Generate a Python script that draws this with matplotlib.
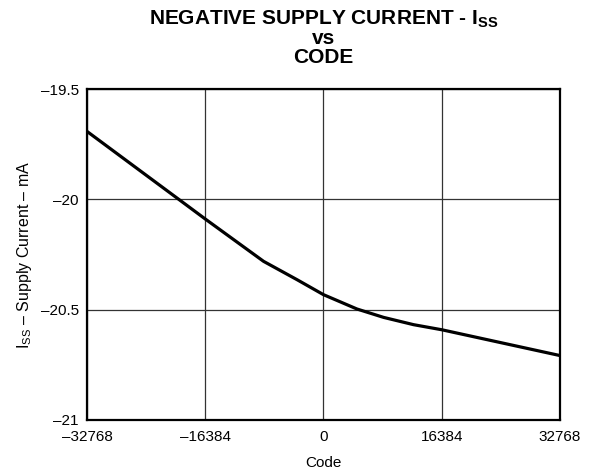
import matplotlib.pyplot as plt

plt.rcParams['font.family'] = ['Liberation Sans', 'DejaVu Sans']
plt.rcParams['mathtext.fontset'] = 'custom'
plt.rcParams['mathtext.rm'] = 'Liberation Sans'
plt.rcParams['mathtext.bf'] = 'Liberation Sans:bold'

code = [-32768, -20300, -16384, -8300, -3670, 0, 4640, 8330, 12480, 16384, 32768]
iss = [-19.692, -19.994, -20.089, -20.281, -20.364, -20.432, -20.497, -20.535,
       -20.568, -20.591, -20.708]

xticks = [-32768, -16384, 0, 16384, 32768]
xlabels = ["\u201332768", "\u201316384", "0", "16384", "32768"]
yticks = [-21, -20.5, -20, -19.5]
ylabels = ["\u201321", "\u201320.5", "\u201320", "\u201319.5"]

fig = plt.figure(figsize=(5.99, 4.75), dpi=100)
ax = fig.add_axes([0.1452, 0.1158, 0.7897, 0.6968])

ax.plot(code, iss, color="black", linewidth=2.3, zorder=3)

ax.set_xlim(-32768, 32768)
ax.set_ylim(-21, -19.5)
ax.set_xticks(xticks)
ax.set_xticklabels(xlabels)
ax.set_yticks(yticks)
ax.set_yticklabels(ylabels)
ax.tick_params(length=0, labelsize=11, pad=6)
ax.tick_params(axis="x", pad=7.5)
ax.grid(True, color="#333333", linewidth=0.9)
for s in ax.spines.values():
    s.set_linewidth(1.6)
    s.set_zorder(4)

ax.set_xlabel("Code", fontsize=11, labelpad=8.5)
ax.set_ylabel("I$_{\\rm SS}$ \u2013 Supply Current \u2013 mA", fontsize=11.5, labelpad=5)
ax.set_title(r"NEGATIVE SUPPLY CURRENT - I$_{\mathbf{SS}}$" + "\nvs\nCODE",
             fontsize=15, fontweight="bold", linespacing=0.95, pad=19)

fig.savefig("out.png", dpi=100)
